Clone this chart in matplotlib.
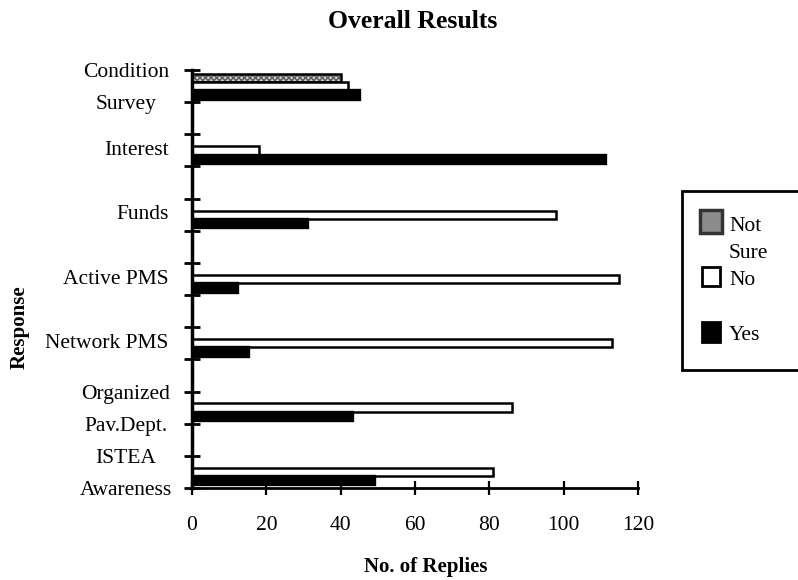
import matplotlib
matplotlib.use('Agg')
from matplotlib import pyplot as plt
from matplotlib.patches import Rectangle
from matplotlib.transforms import blended_transform_factory

categories = ['Condition\nSurvey', 'Interest', 'Funds', 'Active PMS',
              'Network PMS', 'Organized\nPav.Dept.', 'ISTEA\nAwareness']
not_sure = [40, 0, 0, 0, 0, 0, 0]
no = [42, 18, 98, 115, 113, 86, 81]
yes = [45, 111, 31, 12, 15, 43, 49]
series_labels = ['Not\nSure', 'No', 'Yes']
x_ticks = [0, 20, 40, 60, 80, 100, 120]

W, H = 798, 580


def fx(px):
    return px / W


def fy(py):
    return 1 - py / H


plt.rcParams['font.family'] = ['Liberation Serif', 'DejaVu Serif']

fig = plt.figure(figsize=(W / 100, H / 100), dpi=100)
ax = fig.add_axes([fx(192), fy(488), (638 - 192) / W, (488 - 70) / H])

# each category sits in every other slot of the category axis
pos = [2 * i + 0.5 for i in range(len(categories))]
h = 0.26
ns_pos = [p - h for p in pos]
yes_pos = [p + h for p in pos]

ax.barh(ns_pos, not_sure, height=h, color='0.8', edgecolor='0.35',
        hatch='xxxxxx', linewidth=0)
ax.barh(ns_pos, not_sure, height=h, fill=False, edgecolor='black', linewidth=1.8)
ax.barh(pos, no, height=h, color='white', edgecolor='black', linewidth=1.8)
ax.barh(yes_pos, yes, height=h, color='black', edgecolor='black', linewidth=2.4)

ax.set_xlim(0, 120)
ax.set_ylim(13, 0)
ax.spines['top'].set_visible(False)
ax.spines['right'].set_visible(False)
ax.spines['left'].set_linewidth(2.5)
ax.spines['bottom'].set_linewidth(2)

ax.set_yticks(range(14))
ax.set_yticklabels([])
ax.tick_params(axis='y', direction='inout', length=11, width=2)
ax.set_xticks(x_ticks)
ax.tick_params(axis='x', direction='inout', length=10, width=1.6,
               labelsize=15.5, pad=15)

# category names: wrapped labels go on the slot boundaries, centred
trans = blended_transform_factory(ax.transAxes, ax.transData)
for p, cat in zip(pos, categories):
    lines = cat.split('\n')
    if len(lines) == 1:
        ax.text(-0.052, p, cat, transform=trans, ha='right', va='center',
                fontsize=15.5)
    else:
        for k, line in enumerate(lines):
            ax.text(-0.148, p - 0.42 + k, line, transform=trans,
                    ha='center', va='center', fontsize=15.5)

fig.text(fx(413), fy(21), 'Overall Results', fontsize=18.5, fontweight='bold',
         ha='center', va='center')
fig.text(fx(426), fy(567), 'No. of Replies', fontsize=15, fontweight='bold',
         ha='center', va='center')
fig.text(fx(20), fy(327), 'Response', fontsize=15, fontweight='bold',
         rotation=90, ha='center', va='center')

# legend box, running off the right edge
fig.patches.append(Rectangle((fx(682), fy(370)), (810 - 682) / W, (370 - 191) / H,
                             transform=fig.transFigure, facecolor='white',
                             edgecolor='black', linewidth=2, clip_on=False))
swatches = [
    dict(box=(700, 210, 22, 23), face='0.55', edge='0.2', lw=2.5),
    dict(box=(702, 267, 18, 19), face='white', edge='black', lw=2),
    dict(box=(702, 322, 18, 20), face='black', edge='black', lw=2),
]
text_y = [240, 280, 335]
for sw, label, ty in zip(swatches, series_labels, text_y):
    x0, y0, bw, bh = sw['box']
    fig.patches.append(Rectangle((fx(x0), fy(y0 + bh)), bw / W, bh / H,
                                 transform=fig.transFigure, facecolor=sw['face'],
                                 edgecolor=sw['edge'], linewidth=sw['lw']))
    fig.text(fx(729), fy(ty), label, fontsize=15.5, ha='left', va='center',
             linespacing=1.6)

plt.savefig('out.png', dpi=100)
plt.close()
